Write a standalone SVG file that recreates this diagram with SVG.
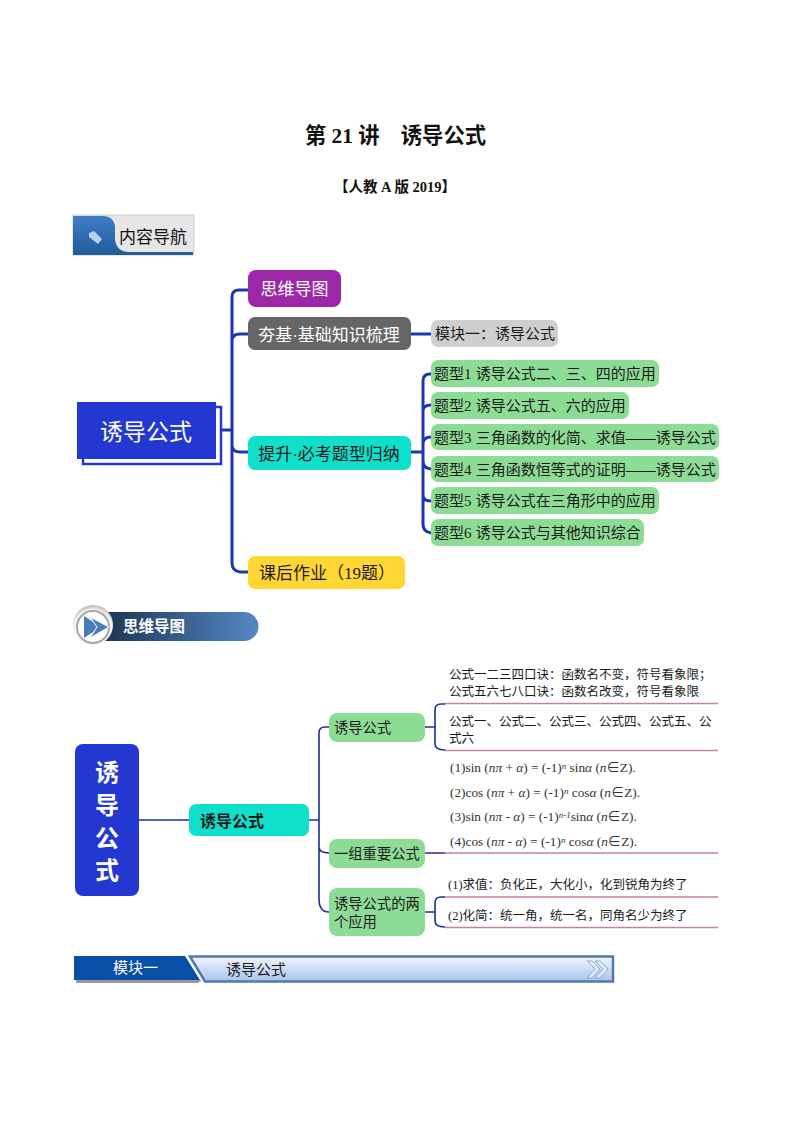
<svg xmlns="http://www.w3.org/2000/svg" width="794" height="1123" viewBox="0 0 794 1123">
<style>
text{font-family:"Liberation Sans","Noto Sans CJK SC",sans-serif;fill:#1a1a1a}
.s{font-family:"Liberation Serif","Noto Sans CJK SC",serif}
text.w{fill:#fff}
text.k{fill:#111}
.t17{font-size:17px}
.g{font-size:15px}
.n{font-size:12.500px}
text.f{font-family:"Liberation Serif","Noto Sans CJK SC",serif;font-size:13.300px;fill:#333}
.i{font-style:italic}
.u{font-size:9px}
.c{fill:none;stroke:#1c35b5;stroke-width:3}
.d{fill:none;stroke:#1a2f9c;stroke-width:1.6}
.p{fill:none;stroke:#c77fa6;stroke-width:1.6}
</style>
<defs>
<linearGradient id="tab" x1="0" y1="0" x2="0" y2="1"><stop offset="0" stop-color="#3f7fc4"/><stop offset="1" stop-color="#1f5a9c"/></linearGradient>
<linearGradient id="bar" x1="0" y1="0" x2="1" y2="0"><stop offset="0" stop-color="#1c3350"/><stop offset="1" stop-color="#5488c6"/></linearGradient>
<linearGradient id="mod" x1="0" y1="0" x2="0" y2="1"><stop offset="0" stop-color="#f2f6fd"/><stop offset="1" stop-color="#a9c3ee"/></linearGradient>
<radialGradient id="ring" cx=".5" cy=".6" r=".6"><stop offset="0" stop-color="#fff"/><stop offset=".8" stop-color="#f4f4f4"/><stop offset="1" stop-color="#b5b5b5"/></radialGradient>
</defs>

<g id="title">
<text class="s k" x="395.500" y="143" text-anchor="middle" font-size="21.300" font-weight="700">第 21 讲　诱导公式</text>
<text class="s k" x="395" y="192" text-anchor="middle" font-size="14.500" font-weight="700">【人教 A 版 2019】</text>
</g>

<g id="nav-header">
<rect x="73" y="215" width="121" height="40" fill="#e6e6e6" stroke="#d0d0d0"/>
<path d="M73 216H104Q113 216 115 226V240Q117 252 129 252H193V255H73Z" fill="url(#tab)"/>
<path d="M89 233l5-2 8 8-4 5-9-7z" fill="#b9cfe8"/>
<text class="k" x="119" y="243" font-size="17">内容导航</text>
</g>

<g id="connectors">
<path class="c" d="M221 430H232M248 290H239Q232 290 232 297V563Q232 571 240 572H248M232 341Q232 334 240 334H248M232 445Q232 452 240 452H248"/>
<path class="c" d="M411 334H431M411 452H423M431 374H430Q423 374 423 381V524Q423 532 431 533M423 411Q423 405 431 405M423 444Q423 437 431 437M423 461Q423 468 431 469M423 495Q423 501 431 501"/>
<path class="d" d="M139 820H189M309 820H319M329 727H325Q319 727 319 733V899Q319 912 329 912M319 847Q319 853 329 853M425 727H435M425 853H445M425 912H435"/>
<path class="d" d="M445 704H441Q435 704 435 710V744Q435 750 445 750M445 897H441Q435 897 435 903V921Q435 927 445 927"/>
<path class="p" d="M445 703.500H718M445 750.500H718M445 853H718M445 897H718M445 927.500H718"/>
</g>

<g id="root-1">
<rect x="83" y="407" width="138" height="57" fill="#fff" stroke="#2338d0" stroke-width="2.500"/>
<rect x="77" y="402" width="139" height="57" fill="#2338d0"/>
<text class="w" x="146" y="440" text-anchor="middle" font-size="23">诱导公式</text>
</g>
<g id="n-mindmap"><rect x="248" y="270" width="93" height="37" rx="8" fill="#9c27a8"/><text class="w t17" x="294.500" y="295" text-anchor="middle">思维导图</text></g>
<g id="n-basic"><rect x="248" y="317" width="163" height="33" rx="7" fill="#666"/><text class="w t17" x="329" y="341" text-anchor="middle">夯基·基础知识梳理</text></g>
<g id="n-improve"><rect x="248" y="436" width="163" height="34" rx="7" fill="#0fe0cb"/><text class="t17" x="329" y="460" text-anchor="middle">提升·必考题型归纳</text></g>
<g id="n-homework"><rect x="248" y="556" width="157" height="33" rx="7" fill="#ffd633"/><text class="t17" x="259" y="579">课后作业（<tspan class="s">19</tspan>题）</text></g>
<g id="n-module"><rect x="431" y="320" width="127" height="27" rx="7" fill="#cfcfcf"/><text class="g" x="435" y="339">模块一：诱导公式</text></g>

<g id="q1"><rect x="431" y="360" width="228" height="27" rx="7" fill="#8ddc96"/><text class="g" x="434" y="379">题型<tspan class="s">1</tspan> 诱导公式二、三、四的应用</text></g>
<g id="q2"><rect x="431" y="392" width="198" height="27" rx="7" fill="#8ddc96"/><text class="g" x="434" y="411">题型<tspan class="s">2</tspan> 诱导公式五、六的应用</text></g>
<g id="q3"><rect x="431" y="424" width="288" height="26" rx="7" fill="#8ddc96"/><text class="g" x="434" y="443">题型<tspan class="s">3</tspan> 三角函数的化简、求值——诱导公式</text></g>
<g id="q4"><rect x="431" y="456" width="288" height="26" rx="7" fill="#8ddc96"/><text class="g" x="434" y="475">题型<tspan class="s">4</tspan> 三角函数恒等式的证明——诱导公式</text></g>
<g id="q5"><rect x="431" y="487" width="228" height="27" rx="7" fill="#8ddc96"/><text class="g" x="434" y="506">题型<tspan class="s">5</tspan> 诱导公式在三角形中的应用</text></g>
<g id="q6"><rect x="431" y="519" width="213" height="27" rx="7" fill="#8ddc96"/><text class="g" x="434" y="538">题型<tspan class="s">6</tspan> 诱导公式与其他知识综合</text></g>

<g id="map-header">
<path d="M100 612H244A14.500 14.500 0 0 1 244 641H100Z" fill="url(#bar)"/>
<circle cx="93" cy="625" r="20" fill="url(#ring)"/>
<circle cx="93" cy="627" r="16" fill="#fff" stroke="#a8a8a8" stroke-width="2"/>
<path d="M84 616L101 627L84 638Z" fill="#4a7cb8"/>
<path d="M90 617L109 627L90 638L97 627Z" fill="#4a7cb8" stroke="#fff" stroke-width="1"/>
<text class="w" x="123" y="632" font-size="15.500" font-weight="700">思维导图</text>
</g>

<g id="root-2">
<rect x="75" y="744" width="64" height="152" rx="8" fill="#2338d0"/>
<text class="w" x="107" y="781" text-anchor="middle" font-size="24" font-weight="700">诱</text>
<text class="w" x="107" y="814" text-anchor="middle" font-size="24" font-weight="700">导</text>
<text class="w" x="107" y="847" text-anchor="middle" font-size="24" font-weight="700">公</text>
<text class="w" x="107" y="879" text-anchor="middle" font-size="24" font-weight="700">式</text>
</g>
<g id="center-2"><rect x="189" y="804" width="120" height="32" rx="7" fill="#0fe0cb"/><text x="200" y="827" font-size="16" font-weight="700">诱导公式</text></g>
<g id="b1"><rect x="329" y="713" width="96" height="29" rx="8" fill="#8ddc96"/><text x="334" y="733" font-size="14.300">诱导公式</text></g>
<g id="b2"><rect x="329" y="839" width="96" height="29" rx="8" fill="#8ddc96"/><text x="334" y="859" font-size="14.300">一组重要公式</text></g>
<g id="b3"><rect x="329" y="888" width="96" height="48" rx="8" fill="#8ddc96"/><text x="334" y="909" font-size="14.300">诱导公式的两</text><text x="334" y="927" font-size="14.300">个应用</text></g>

<g id="leaf-1">
<text class="n" x="449" y="679">公式一二三四口诀：函数名不变，符号看象限；</text>
<text class="n" x="449" y="696">公式五六七八口诀：函数名改变，符号看象限</text>
<text class="n" x="449" y="726">公式一、公式二、公式三、公式四、公式五、公</text>
<text class="n" x="449" y="743">式六</text>
</g>
<g id="leaf-2">
<text class="f" x="450" y="772">(1)sin (<tspan class="i">nπ</tspan> + <tspan class="i">α</tspan>) = (-1)<tspan class="i u" dy="-3">n</tspan><tspan dy="3"> sin</tspan><tspan class="i">α</tspan> (<tspan class="i">n</tspan>∈Z).</text>
<text class="f" x="450" y="797">(2)cos (<tspan class="i">nπ</tspan> + <tspan class="i">α</tspan>) = (-1)<tspan class="i u" dy="-3">n</tspan><tspan dy="3"> cos</tspan><tspan class="i">α</tspan> (<tspan class="i">n</tspan>∈Z).</text>
<text class="f" x="450" y="821">(3)sin (<tspan class="i">nπ</tspan> - <tspan class="i">α</tspan>) = (-1)<tspan class="i u" dy="-3">n-1</tspan><tspan dy="3">sin</tspan><tspan class="i">α</tspan> (<tspan class="i">n</tspan>∈Z).</text>
<text class="f" x="450" y="846">(4)cos (<tspan class="i">nπ</tspan> - <tspan class="i">α</tspan>) = (-1)<tspan class="i u" dy="-3">n</tspan><tspan dy="3"> cos</tspan><tspan class="i">α</tspan> (<tspan class="i">n</tspan>∈Z).</text>
</g>
<g id="leaf-3">
<text class="n" x="448" y="889"><tspan class="s">(1)</tspan>求值：负化正，大化小，化到锐角为终了</text>
<text class="n" x="448" y="920"><tspan class="s">(2)</tspan>化简：统一角，统一名，同角名少为终了</text>
</g>

<g id="module-bar">
<path d="M76 980H202L198 983H76Z" fill="#9a9a9a"/>
<path d="M74 956H185L200 980H74Z" fill="#0a4fa6"/>
<path d="M190 956.500H613V981.500H205Z" fill="url(#mod)" stroke="#5279ac" stroke-width="2.500"/>
<path d="M587 961l8 8-8 9h5l8-9-8-8zM595 961l8 8-8 9h5l8-9-8-8z" fill="#dfe9fa" stroke="#7e9cc9" stroke-width=".8"/>
<text class="w" x="113" y="973" font-size="15">模块一</text>
<text x="226" y="975" font-size="15">诱导公式</text>
</g>
</svg>
